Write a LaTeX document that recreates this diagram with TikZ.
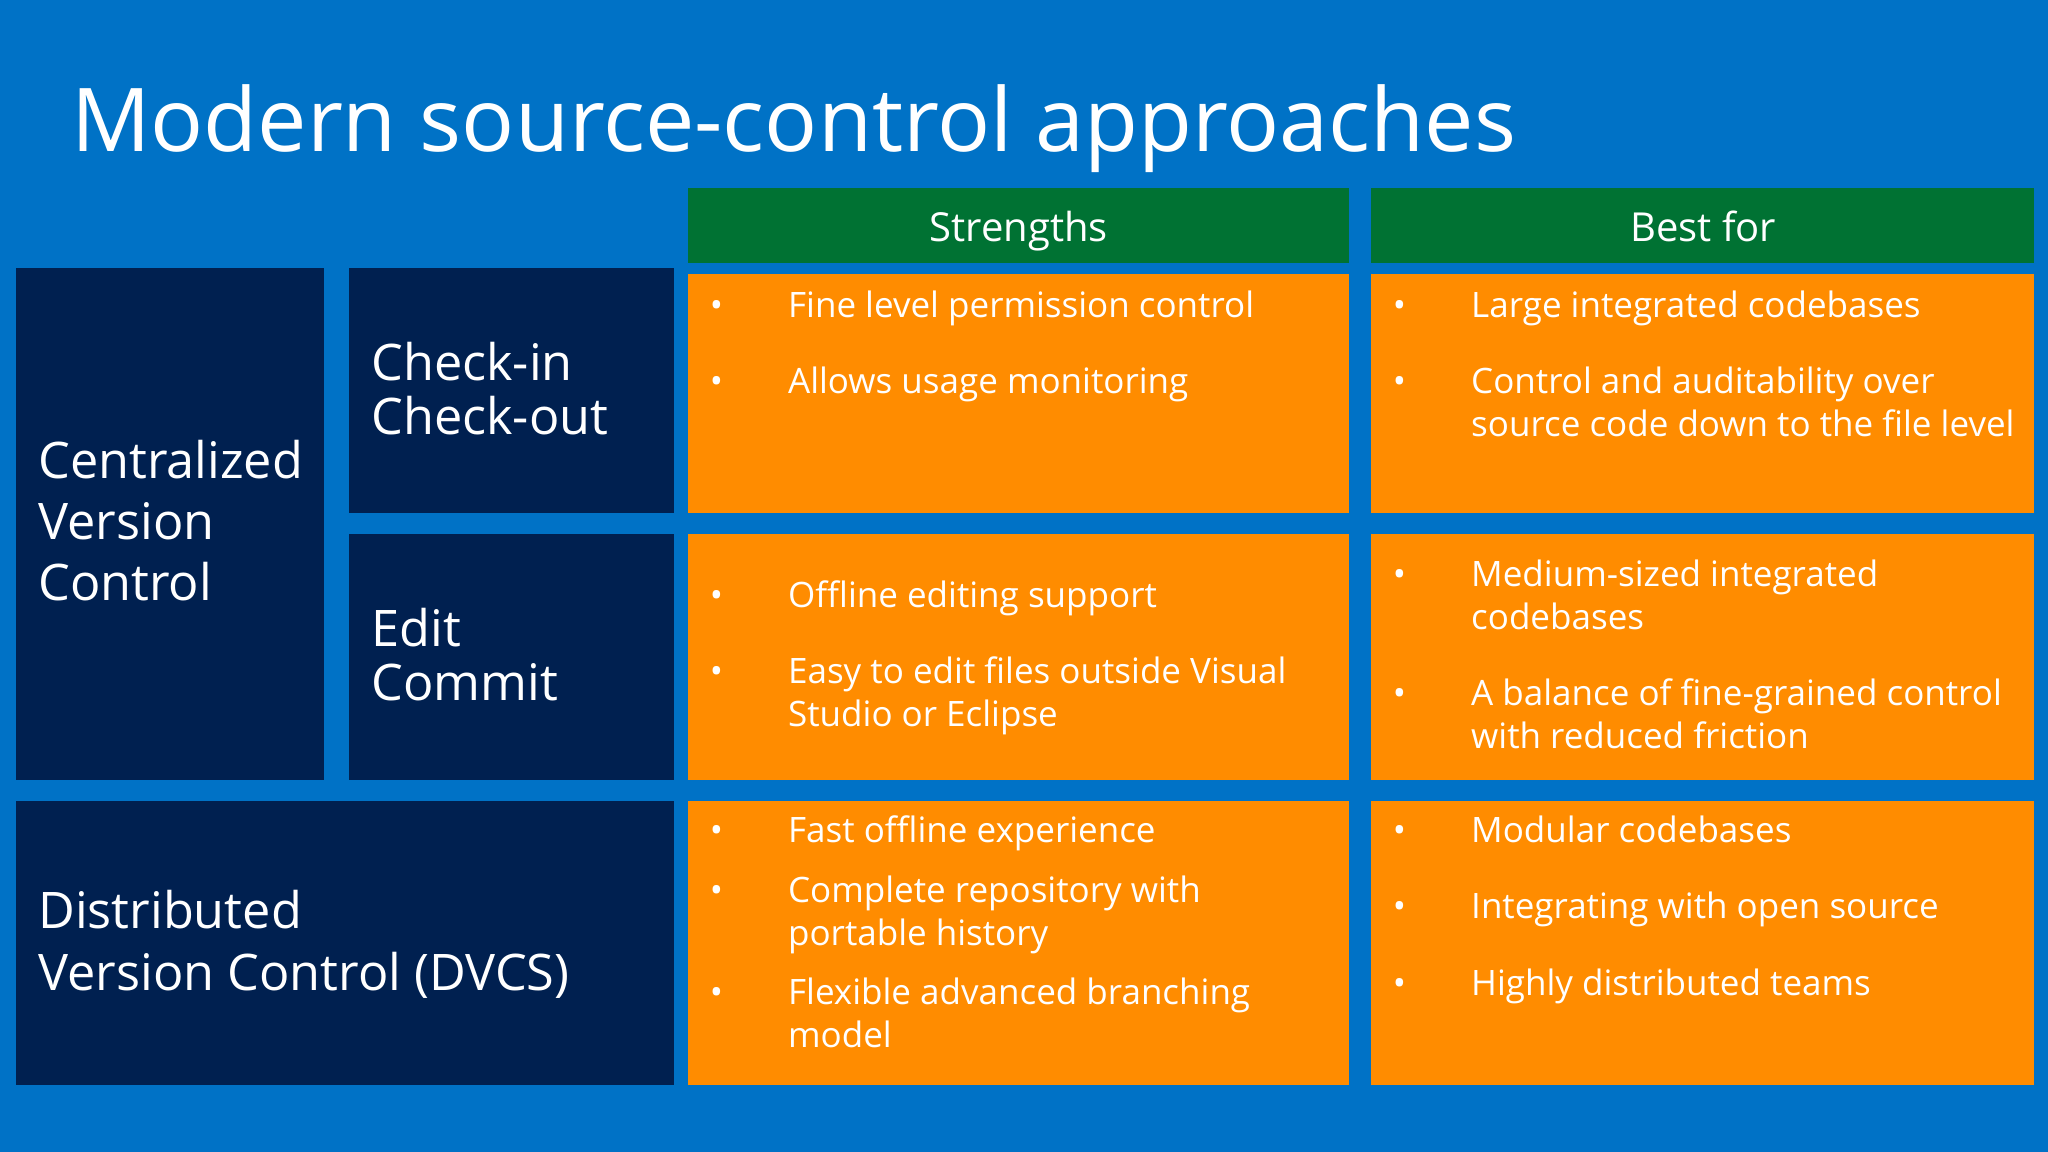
\documentclass[tikz,border=0pt]{standalone}
\usepackage{fontspec}
\setmainfont{Open Sans}
\definecolor{bgblue}{HTML}{0072C6}
\definecolor{navy}{HTML}{002050}
\definecolor{org}{HTML}{FF8C00}
\definecolor{grn}{HTML}{007233}
\begin{document}
\begin{tikzpicture}[x=0.5pt,y=-0.5pt,
  txt/.style={anchor=base west,inner sep=0,text=white,font=\fontsize{13.4}{16}\selectfont},
  big/.style={anchor=base west,inner sep=0,text=white,font=\fontsize{19.3}{23}\selectfont},
  hdr/.style={anchor=base,inner sep=0,text=white,font=\fontsize{15.3}{18}\selectfont}]
\fill[bgblue] (0,0) rectangle (1568,882);
\useasboundingbox (0,0) rectangle (1568,882);
\node[anchor=base west,inner sep=0,text=white,font=\fontsize{33.7}{40}\selectfont] (title) at (54,116) {Modern source-control approaches};
\fill[navy] (12,205) rectangle (248,597);
\fill[navy] (267,205) rectangle (516,393);
\fill[navy] (267,409) rectangle (516,597);
\fill[navy] (12,613) rectangle (516,831);
\fill[grn] (527,144) rectangle (1033,201);
\fill[grn] (1050,144) rectangle (1557,201);
\foreach \y/\yy in {210/393,409/597,613/831}{
  \fill[org] (527,\y) rectangle (1033,\yy);
  \fill[org] (1050,\y) rectangle (1557,\yy);}
\node[hdr] (hs) at (780,185) {Strengths};
\node[hdr] (hb) at (1304,185) {Best for};
\node[big] (c1) at (29,366) {Centralized};
\node[big] (c2) at (29,413) {Version};
\node[big] (c3) at (29,460) {Control};
\node[big] (k1) at (284,291) {Check-in};
\node[big] (k2) at (284,333) {Check-out};
\node[big] (e1) at (284,495) {Edit};
\node[big] (e2) at (284,536) {Commit};
\node[big] (d1) at (29,711) {Distributed};
\node[big] (d2) at (29,758) {Version Control (DVCS)};
\foreach \y [count=\i] in {234,292,456,514,636,682,760}{
  \node[txt] (sb\i) at (543,\y+9) {•};}
\foreach \y [count=\i] in {234,292,440,531,636,694,753}{
  \node[txt] (bb\i) at (1066,\y+9) {•};}
\node[txt] (s1) at (603,243) {Fine level permission control};
\node[txt] (s2) at (603,301) {Allows usage monitoring};
\node[txt] (s3) at (603,465) {Offline editing support};
\node[txt] (s4) at (603,523) {Easy to edit files outside Visual};
\node[txt] (s5) at (603,556) {Studio or Eclipse};
\node[txt] (s6) at (603,645) {Fast offline experience};
\node[txt] (s7) at (603,691) {Complete repository with};
\node[txt] (s8) at (603,724) {portable history};
\node[txt] (s9) at (603,769) {Flexible advanced branching};
\node[txt] (s10) at (603,802) {model};
\node[txt] (b1) at (1126,243) {Large integrated codebases};
\node[txt] (b2) at (1126,301) {Control and auditability over};
\node[txt] (b3) at (1126,334) {source code down to the file level};
\node[txt] (b4) at (1126,449) {Medium-sized integrated};
\node[txt] (b5) at (1126,482) {codebases};
\node[txt] (b6) at (1126,540) {A balance of fine-grained control};
\node[txt] (b7) at (1126,573) {with reduced friction};
\node[txt] (b8) at (1126,645) {Modular codebases};
\node[txt] (b9) at (1126,703) {Integrating with open source};
\node[txt] (b10) at (1126,762) {Highly distributed teams};
\end{tikzpicture}
\end{document}
